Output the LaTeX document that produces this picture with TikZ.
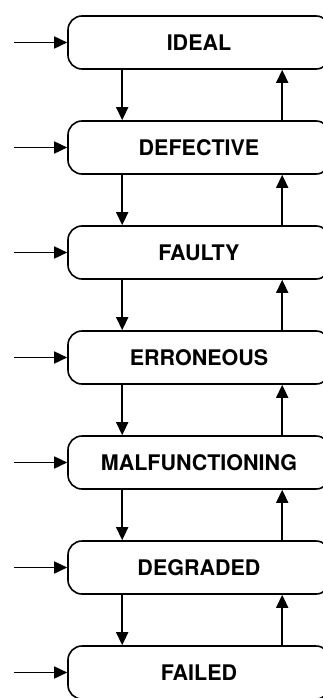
\documentclass[tikz,border=0pt]{standalone}
\usepackage{fontspec}
\setmainfont{TeX Gyre Heros}
\usepackage{tikz}
\usetikzlibrary{
	arrows.meta,
	positioning
}

\tikzset{
	state/.style={draw, line width=1.6pt, rounded corners=14pt, minimum width=262pt,
		minimum height=53pt, inner sep=0pt, text depth=0pt,
		font=\bfseries\fontsize{21.5}{22}\selectfont},
	arr/.style={line width=1.6pt, -{Triangle[length=13pt, width=12pt]}}
}

\begin{document}
\begin{tikzpicture}[x=1pt, y=-1pt]
		\useasboundingbox (0,0) rectangle (323,698);
		% states, each with an entry arrow from the left
		\foreach \name/\txt [count=\i] in {ideal/IDEAL, defective/DEFECTIVE, faulty/FAULTY,
			erroneous/ERRONEOUS, malfunc/MALFUNCTIONING, degraded/DEGRADED, failed/FAILED} {
			\node[state] (\name) at (199, {42.5+105*(\i-1)}) {\txt};
			\coordinate (\name-in) at (14, {42.5+105*(\i-1)});
			\draw[arr] (\name-in) -- (\name);
		}
		% down and up transitions between neighbours
		\foreach \a/\b in {ideal/defective, defective/faulty, faulty/erroneous,
			erroneous/malfunc, malfunc/degraded, degraded/failed} {
			\draw[arr] ([xshift=55pt]\a.south west) -- ([xshift=55pt]\b.north west);
			\draw[arr] ([xshift=215pt]\b.north west) -- ([xshift=215pt]\a.south west);
		}
	\end{tikzpicture}
\end{document}
